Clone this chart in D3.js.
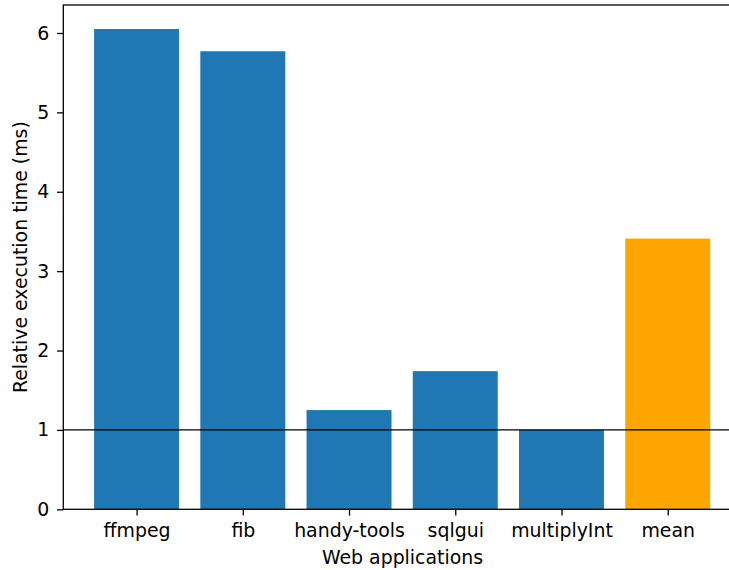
<!DOCTYPE html>
<html>
<head>
<meta charset="utf-8">
<script src="https://cdn.jsdelivr.net/npm/d3@7"></script>
<style>
  html, body { margin: 0; padding: 0; background: #fff; }
  svg { display: block; font-family: "DejaVu Sans", sans-serif; }
</style>
</head>
<body>
<svg id="chart" width="729" height="570"></svg>
<script>
// Benchmarks and their relative execution times
const apps = ["ffmpeg", "fib", "handy-tools", "sqlgui", "multiplyInt", "mean"];
const times = [6.05, 5.77, 1.25, 1.74, 1.0, 3.41];
const barColors = ["#1f77b4", "#1f77b4", "#1f77b4", "#1f77b4", "#1f77b4", "#ffa500"];
const yTicks = [0, 1, 2, 3, 4, 5, 6];
const baseline = 1;

const svg = d3.select("#chart");
const plotLeft = 63.3, plotRight = 741, plotTop = 5, plotBottom = 509.3;
const barWidth = 0.8;
const fontSize = "18.9px";

// Index-based x scale with 5% padding on each side, as in a standard bar plot
const n = apps.length;
const xMin = -barWidth / 2, xMax = n - 1 + barWidth / 2;
const pad = (xMax - xMin) * 0.05;
const x = d3.scaleLinear().domain([xMin - pad, xMax + pad]).range([plotLeft, plotRight]);
const yMax = d3.max(times) * 1.05;
const y = d3.scaleLinear().domain([0, yMax]).range([plotBottom, plotTop]);

const data = apps.map((a, i) => ({ app: a, value: times[i], color: barColors[i], i }));

// Bars
svg.append("g").selectAll("rect").data(data).join("rect")
  .attr("x", d => x(d.i - barWidth / 2))
  .attr("width", d => x(d.i + barWidth / 2) - x(d.i - barWidth / 2))
  .attr("y", d => y(d.value))
  .attr("height", d => y(0) - y(d.value))
  .attr("fill", d => d.color);

// Reference line at 1
svg.append("line")
  .attr("x1", plotLeft).attr("x2", plotRight)
  .attr("y1", y(baseline)).attr("y2", y(baseline))
  .attr("stroke", "#000").attr("stroke-width", 1.2);

// Axes
const xAxis = d3.axisBottom(x)
  .tickValues(d3.range(n))
  .tickFormat(i => apps[i])
  .tickSize(6.3).tickPadding(7.8);
const gx = svg.append("g").attr("transform", `translate(0,${plotBottom})`).call(xAxis);

const yAxis = d3.axisLeft(y).tickValues(yTicks).tickFormat(d3.format("d"))
  .tickSize(6.3).tickPadding(7.7);
const gy = svg.append("g").attr("transform", `translate(${plotLeft},0)`).call(yAxis);

[gx, gy].forEach(g => {
  g.select(".domain").remove();
  g.selectAll(".tick line").attr("stroke", "#000").attr("stroke-width", 1.3);
  g.selectAll(".tick text").attr("fill", "#000")
    .style("font-size", fontSize).style("font-family", "DejaVu Sans, sans-serif");
});

// Frame
svg.append("rect")
  .attr("x", plotLeft).attr("y", plotTop)
  .attr("width", plotRight - plotLeft).attr("height", plotBottom - plotTop)
  .attr("fill", "none").attr("stroke", "#000").attr("stroke-width", 1.3);

// Axis titles
svg.append("text")
  .attr("x", 402.5).attr("y", 563.5)
  .attr("text-anchor", "middle")
  .style("font-size", fontSize)
  .text("Web applications");

svg.append("text")
  .attr("transform", `translate(27,${(plotTop + plotBottom) / 2}) rotate(-90)`)
  .attr("text-anchor", "middle")
  .style("font-size", fontSize)
  .text("Relative execution time (ms)");
</script>
</body>
</html>
